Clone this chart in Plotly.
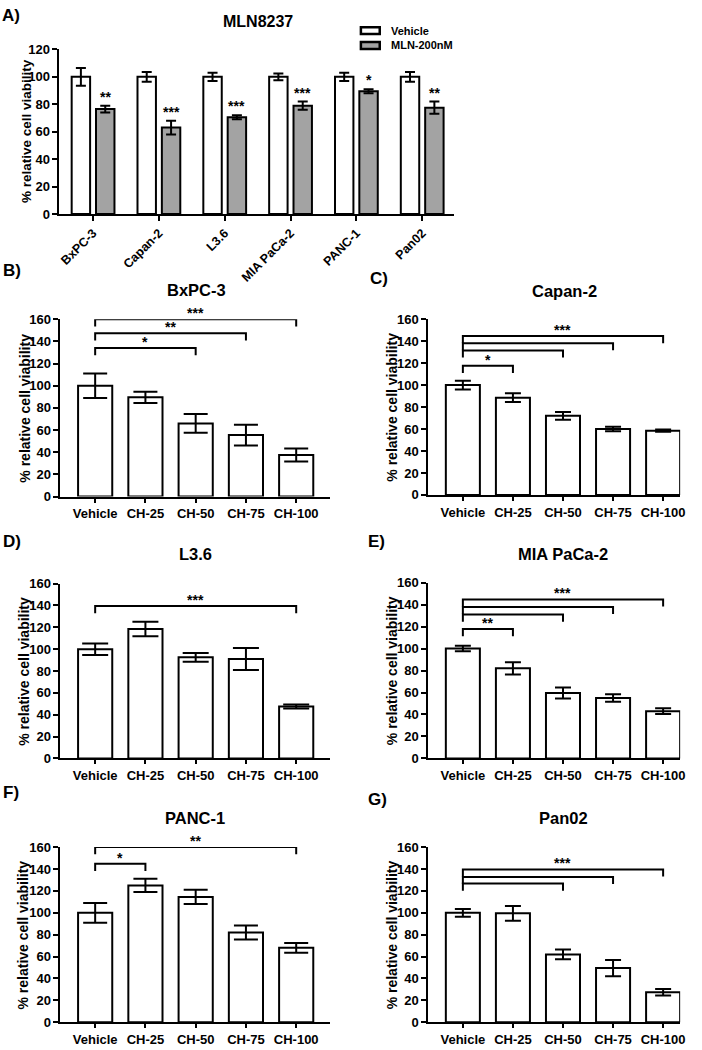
import plotly.graph_objects as go

W, H = 702, 1050
FONT = "Liberation Sans"

# ---------------- data ----------------
# Panel A
cell_lines = ["BxPC-3", "Capan-2", "L3.6", "MIA PaCa-2", "PANC-1", "Pan02"]
vehicle_a = [100, 100, 100, 100, 100, 100]
vehicle_a_err = [6.5, 3.5, 3.0, 2.5, 3.0, 3.5]
mln_a = [76.5, 63.0, 70.5, 79.0, 89.5, 77.5]
mln_a_err = [2.5, 5.0, 1.5, 3.0, 1.5, 4.5]
mln_a_sig = ["**", "***", "***", "***", "*", "**"]
a_yticks = [0, 20, 40, 60, 80, 100, 120]

# Panels B-G
treatments = ["Vehicle", "CH-25", "CH-50", "CH-75", "CH-100"]
bg_yticks = [0, 20, 40, 60, 80, 100, 120, 140, 160]

bxpc3 = [100, 89.5, 66.0, 55.5, 37.5]
bxpc3_err = [11.0, 5.0, 8.5, 9.3, 5.8]
capan2 = [100, 88.5, 72.0, 60.0, 58.5]
capan2_err = [4.0, 4.0, 3.5, 2.0, 1.0]
l36 = [100, 118.5, 92.5, 91.0, 47.5]
l36_err = [5.3, 6.6, 4.0, 10.0, 1.8]
miapaca2 = [100, 82.0, 59.5, 55.0, 43.0]
miapaca2_err = [2.5, 5.6, 5.0, 3.5, 2.6]
panc1 = [100, 125.0, 114.5, 82.0, 68.0]
panc1_err = [9.0, 6.0, 6.5, 6.3, 4.5]
pan02 = [100, 99.5, 62.0, 49.5, 27.5]
pan02_err = [3.5, 6.7, 4.4, 7.5, 3.0]

# significance brackets: (from index, to index, bracket height, label)
bxpc3_brackets = [(0, 2, 134.0, "*"), (0, 3, 147.3, "**"), (0, 4, 160.0, "***")]
capan2_brackets = [(0, 1, 117.5, "*"), (0, 2, 131.6, ""), (0, 3, 138.2, ""), (0, 4, 144.6, "***")]
l36_brackets = [(0, 4, 139.5, "***")]
miapaca2_brackets = [(0, 1, 117.8, "**"), (0, 2, 131.0, ""), (0, 3, 137.9, ""), (0, 4, 144.7, "***")]
panc1_brackets = [(0, 1, 144.7, "*"), (0, 4, 160.0, "**")]
pan02_brackets = [(0, 2, 126.7, ""), (0, 3, 132.7, ""), (0, 4, 139.6, "***")]
bracket_drop = 6.5

# ---------------- layout helpers ----------------
def px_x(p):
    return p / W

def px_y(p):
    return 1 - p / H

panels = [
    ("B)", "BxPC-3", bxpc3, bxpc3_err, bxpc3_brackets, (60, 331.7), (316.7, 496.7), [-0.69, 4.67], (11, 267), (197, 287), 24, 12),
    ("C)", "Capan-2", capan2, capan2_err, capan2_brackets, (431, 685), (316.7, 495), [-0.69, 4.34], (381, 275), (568, 288), 394, 8),
    ("D)", "L3.6", l36, l36_err, l36_brackets, (60, 331.7), (585, 762.3), [-0.69, 4.67], (11, 542), (196, 555), 23, 13),
    ("E)", "MIA PaCa-2", miapaca2, miapaca2_err, miapaca2_brackets, (431, 685), (584, 762.3), [-0.69, 4.34], (379, 542), (567, 555), 394, 8),
    ("F)", "PANC-1", panc1, panc1_err, panc1_brackets, (60, 331.7), (852.3, 1030), [-0.69, 4.67], (10, 797), (196, 823), 22, 12),
    ("G)", "Pan02", pan02, pan02_err, pan02_brackets, (431, 685), (852.3, 1030), [-0.69, 4.34], (380, 804), (567, 823), 394, 8),
]

def tfont(size=13):
    return dict(family=FONT, size=size, color="black", weight="bold")

def axis_common():
    return dict(showline=True, linecolor="black", linewidth=2, ticks="outside",
                ticklen=5, tickwidth=2, tickcolor="black", showgrid=False,
                zeroline=False, fixedrange=True, autorange=False, tickfont=tfont(13))

def paper_text(xp, yp, text, size, angle=0, xanchor="center"):
    return dict(x=px_x(xp), y=px_y(yp), xref="paper", yref="paper", text=text,
                xanchor=xanchor, yanchor="middle", textangle=angle, showarrow=False,
                font=tfont(size))

fig = go.Figure()
layout = dict(width=W, height=H, margin=dict(l=0, r=0, t=0, b=0),
              paper_bgcolor="white", plot_bgcolor="white", showlegend=False,
              barmode="overlay", font=dict(family=FONT, color="black"))
annotations = []
shapes = []

# ---------------- Panel A ----------------
fig.add_trace(go.Bar(
    x=cell_lines, y=vehicle_a, width=0.28, offset=-0.325,
    marker=dict(color="white", line=dict(color="black", width=2)),
    error_y=dict(type="data", array=vehicle_a_err, color="black", thickness=2, width=5),
    xaxis="x", yaxis="y", name="Vehicle"))
fig.add_trace(go.Bar(
    x=cell_lines, y=mln_a, width=0.28, offset=0.045,
    marker=dict(color="#a3a3a3", line=dict(color="black", width=2)),
    error_y=dict(type="data", array=mln_a_err, color="black", thickness=2, width=5),
    xaxis="x", yaxis="y", name="MLN-200nM"))

xa = axis_common()
xa.update(domain=[px_x(59), px_x(456.7)], anchor="y", type="category",
          range=[-0.51, 5.48], tickangle=-45, tickfont=tfont(12.5))
ya = axis_common()
ya.update(domain=[px_y(210), px_y(43)], anchor="x", range=[0, 120],
          tickvals=a_yticks, tickfont=tfont(13))
layout["xaxis"] = xa
layout["yaxis"] = ya

for i, (v, e, s) in enumerate(zip(mln_a, mln_a_err, mln_a_sig)):
    annotations.append(dict(x=i + 0.185, y=v + e, xref="x", yref="y", text=s,
                            xanchor="center", showarrow=False, yanchor="bottom", yshift=-1,
                            font=tfont(14)))

annotations.append(paper_text(259, 15, "MLN8237", 16))
annotations.append(paper_text(10, 9, "A)", 17))
annotations.append(paper_text(25, 126, "% relative cell viability", 13.5, angle=-90))
# legend
legend_items = [("Vehicle", "white", 24), ("MLN-200nM", "#a3a3a3", 39)]
for label, col, cy in legend_items:
    shapes.append(dict(type="rect", xref="paper", yref="paper",
                       x0=px_x(363), x1=px_x(382), y0=px_y(cy + 3.5), y1=px_y(cy - 3.5),
                       fillcolor=col, line=dict(color="black", width=2.5)))
    annotations.append(paper_text(391, cy, label, 11, xanchor="left"))

# ---------------- Panels B-G ----------------
for k, (letter, title, vals, errs, brackets, xdom, ydom, xr, lpos, tpos, ytx, capw) in enumerate(panels):
    n = k + 2
    xname, yname = f"x{n}", f"y{n}"
    fig.add_trace(go.Bar(
        x=treatments, y=vals, width=0.68,
        marker=dict(color="white", line=dict(color="black", width=2)),
        error_y=dict(type="data", array=errs, color="black", thickness=2, width=capw),
        xaxis=xname, yaxis=yname, name=title))
    for (i0, i1, yb, lab) in brackets:
        fig.add_trace(go.Scatter(
            x=[treatments[i0], treatments[i0], treatments[i1], treatments[i1]],
            y=[yb - bracket_drop, yb, yb, yb - bracket_drop],
            mode="lines", line=dict(color="black", width=2),
            xaxis=xname, yaxis=yname, hoverinfo="skip", cliponaxis=False))
        if lab:
            annotations.append(dict(x=(i0 + i1) / 2, y=yb, xref=xname, yref=yname, text=lab,
                                    xanchor="center", showarrow=False, yanchor="bottom", yshift=-4,
                                    font=tfont(14)))
    xa = axis_common()
    xa.update(domain=[px_x(xdom[0]), px_x(xdom[1])], anchor=yname, type="category",
              range=xr, ticklen=4)
    ya = axis_common()
    ya.update(domain=[px_y(ydom[1]), px_y(ydom[0])], anchor=xname, range=[0, 160],
              tickvals=bg_yticks)
    layout[f"xaxis{n}"] = xa
    layout[f"yaxis{n}"] = ya
    annotations.append(paper_text(lpos[0], lpos[1], letter, 17))
    annotations.append(paper_text(tpos[0], tpos[1], title, 16.5))
    annotations.append(paper_text(ytx, (ydom[0] + ydom[1]) / 2, "% relative cell viability", 14, angle=-90))

layout["annotations"] = annotations
layout["shapes"] = shapes
fig.update_layout(**layout)
fig.write_html("out.html", config={"displayModeBar": False},
               post_script="document.body.style.margin='0px';document.body.style.padding='0px';")
